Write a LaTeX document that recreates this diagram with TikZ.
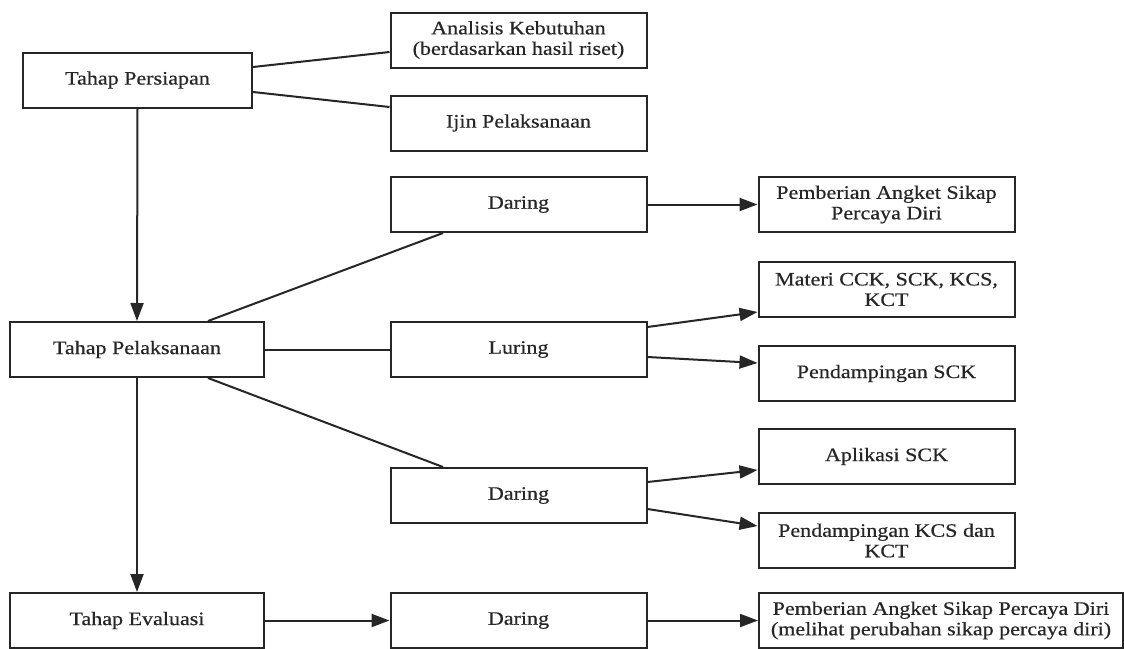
\documentclass[tikz,border=0pt]{standalone}
\usepackage{fontspec}
\setmainfont{Liberation Serif}[FakeStretch=1.16,FakeBold=0.5]
\usetikzlibrary{arrows.meta}
\definecolor{ink}{HTML}{262626}
\begin{document}
\begin{tikzpicture}[x=1pt,y=-1pt,
  box/.style={draw=ink,line width=2pt,rectangle,minimum height=55pt,inner sep=0pt,
    align=center,text=ink,font=\fontsize{19}{20.5}\selectfont},
  wbox/.style={box,minimum width=256pt},
  conn/.style={draw=ink,line width=2pt},
  arr/.style={conn,-{Triangle[length=18pt,width=13pt]}}]
\useasboundingbox (0,0) rectangle (1124,648);
\fill[white] (0,0) rectangle (1124,648);
\node[box,minimum width=229pt] (pers) at (137.5,80) {Tahap Persiapan};
\node[wbox] (anal) at (518.5,40) {Analisis Kebutuhan\\(berdasarkan hasil riset)};
\node[wbox] (ijin) at (518.5,123) {Ijin Pelaksanaan};
\node[wbox] (dar1) at (518.5,204.5) {Daring};
\node[wbox] (pem1) at (886.5,204.5) {Pemberian Angket Sikap\\Percaya Diri};
\node[box,minimum width=254pt] (pel) at (137,349.5) {Tahap Pelaksanaan};
\node[wbox] (lur) at (518.5,349.5) {Luring};
\node[wbox] (mat) at (886.5,289.5) {Materi CCK, SCK, KCS,\\KCT};
\node[wbox] (psck) at (886.5,373.5) {Pendampingan SCK};
\node[wbox] (apl) at (886.5,456.5) {Aplikasi SCK};
\node[wbox] (dar2) at (518.5,495.5) {Daring};
\node[wbox] (pkcs) at (886.5,540.5) {Pendampingan KCS dan\\KCT};
\node[box,minimum width=254pt] (eva) at (137,620.5) {Tahap Evaluasi};
\node[wbox] (dar3) at (518.5,620.5) {Daring};
\node[box,minimum width=364pt] (pem2) at (941,620.5) {Pemberian Angket Sikap Percaya Diri\\(melihat perubahan sikap percaya diri)};
% connectors
\draw[conn] ([yshift=13pt]pers.east) -- ([yshift=-12pt]anal.west);
\draw[conn] ([yshift=-12pt]pers.east) -- ([yshift=16pt]ijin.west);
\draw[arr] (pers.south) -- (pel.north);
\draw[arr] (pel.south) -- (eva.north);
\draw[conn] ([xshift=71pt]pel.north) -- ([xshift=-75.5pt]dar1.south);
\draw[conn] ([xshift=71pt]pel.south) -- ([xshift=-75.5pt]dar2.north);
\draw[conn] (pel.east) -- (lur.west);
\draw[arr] (dar1.east) -- (pem1.west);
\draw[arr] ([yshift=22.5pt]lur.east) -- ([yshift=-22.5pt]mat.west);
\draw[arr] ([yshift=-7.5pt]lur.east) -- ([yshift=10.5pt]psck.west);
\draw[arr] ([yshift=13.5pt]dar2.east) -- ([yshift=-13.5pt]apl.west);
\draw[arr] ([yshift=-13.5pt]dar2.east) -- ([yshift=14.5pt]pkcs.west);
\draw[arr] (eva.east) -- (dar3.west);
\draw[arr] (dar3.east) -- (pem2.west);
\end{tikzpicture}
\end{document}
